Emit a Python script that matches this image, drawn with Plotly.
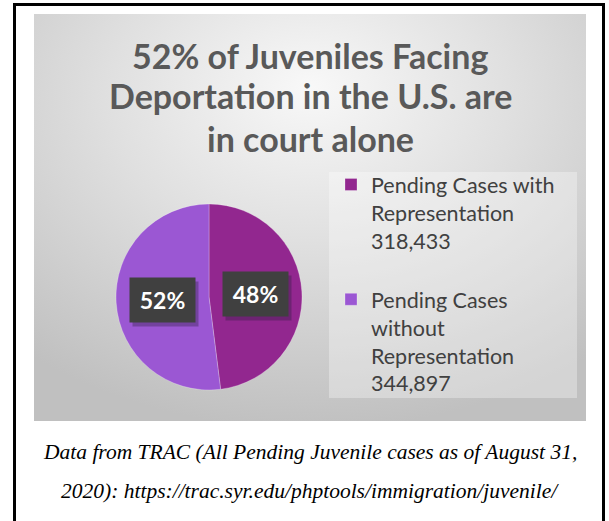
import base64
import math
import plotly.graph_objects as go

# ---------------- data ----------------
categories = ["Pending Cases with Representation", "Pending Cases without Representation"]
legend_lines = [["Pending Cases with", "Representation"], ["Pending Cases", "without", "Representation"]]
case_counts = [318433, 344897]
slice_colors = ["#92278F", "#9B57D3"]

title_lines = ["52% of Juveniles Facing", "Deportation in the U.S. are", "in court alone"]
caption_lines = [
    "Data from TRAC (All Pending Juvenile cases as of August 31,",
    "2020): https://trac.syr.edu/phptools/immigration/juvenile/",
]

# ---------------- layout constants ----------------
W, H = 609, 521
CX, CY, R = 209, 297, 93          # pie centre / radius in px


def px(x):
    return x / W


def py(y):
    return 1 - y / H


legend_text = []
for i, (lines, v) in enumerate(zip(legend_lines, case_counts)):
    t = "<br>".join(lines + [f"{v:,}"])
    if i < len(case_counts) - 1:
        t += "<br> "
    legend_text.append(t)

fig = go.Figure()
fig.add_trace(go.Pie(
    labels=legend_text,
    values=case_counts,
    sort=False,
    direction="clockwise",
    rotation=0,
    marker=dict(colors=slice_colors, line=dict(color="rgba(255,255,255,0.25)", width=1)),
    textinfo="none",
    hoverinfo="label+value+percent",
    domain=dict(x=[px(CX - R), px(CX + R)], y=[py(CY + R), py(CY - R)]),
))

# gradient background panel
svg = (
    '<svg xmlns="http://www.w3.org/2000/svg" width="552" height="407" viewBox="0 0 552 407" '
    'preserveAspectRatio="none">'
    '<defs><radialGradient id="g" cx="50%" cy="22%" r="80%" fx="50%" fy="18%">'
    '<stop offset="0%" stop-color="#f8f8f8"/>'
    '<stop offset="45%" stop-color="#e0e0e0"/>'
    '<stop offset="100%" stop-color="#c0c0c0"/>'
    '</radialGradient></defs>'
    '<rect width="552" height="407" fill="url(#g)"/></svg>'
)
src = "data:image/svg+xml;base64," + base64.b64encode(svg.encode()).decode()
PX0, PY0, PX1, PY1 = 34, 14, 586, 421
fig.add_layout_image(dict(
    source=src, xref="paper", yref="paper",
    x=px(PX0), y=py(PY0), sizex=(PX1 - PX0) / W, sizey=(PY1 - PY0) / H,
    xanchor="left", yanchor="top", sizing="stretch", layer="below",
))

shapes = [
    # legend area
    dict(type="rect", xref="paper", yref="paper", x0=px(329), x1=px(577), y0=py(398), y1=py(172),
         fillcolor="rgba(255,255,255,0.32)", line=dict(width=0), layer="below"),
    # frame
    dict(type="line", xref="paper", yref="paper", x0=px(14.5), x1=px(14.5), y0=py(3), y1=py(530),
         line=dict(color="black", width=3)),
    dict(type="line", xref="paper", yref="paper", x0=px(13), x1=px(605), y0=py(4.5), y1=py(4.5),
         line=dict(color="black", width=3)),
    dict(type="line", xref="paper", yref="paper", x0=px(603.5), x1=px(603.5), y0=py(3), y1=py(530),
         line=dict(color="black", width=3)),
]

annotations = []
# title (one annotation per line)
for line, yc in zip(title_lines, [55.5, 95.5, 138]):
    annotations.append(dict(
        text="<b>" + line + "</b>", xref="paper", yref="paper",
        x=px(310), y=py(yc), xanchor="center", yanchor="middle", showarrow=False,
        font=dict(family="Lato", size=34, color="#595959"), align="center",
    ))
# caption
for line, yc in zip(caption_lines, [452, 491]):
    annotations.append(dict(
        text="<i>" + line + "</i>", xref="paper", yref="paper",
        x=px(310), y=py(yc), xanchor="center", yanchor="middle", showarrow=False,
        font=dict(family="Liberation Serif", size=21.5, color="black"),
    ))

# data labels, placed at slice mid-angles
total = sum(case_counts)
cum = 0
for v in case_counts:
    mid = (cum + v / 2) / total * 2 * math.pi
    cum += v
    lx = CX + 0.5 * R * math.sin(mid)
    ly = CY - 0.5 * R * math.cos(mid)
    pct = f"{round(v / total * 100)}%"
    annotations.append(dict(
        text="", xref="paper", yref="paper", x=px(lx + 3), y=py(ly + 4),
        xanchor="center", yanchor="middle", showarrow=False,
        width=63, height=42, bgcolor="rgba(40,30,60,0.35)",
    ))
    annotations.append(dict(
        text=f"<b>{pct}</b>", xref="paper", yref="paper", x=px(lx), y=py(ly),
        xanchor="center", yanchor="middle", showarrow=False,
        width=63, height=42, bgcolor="#404040",
        font=dict(family="Lato", size=23, color="white"),
    ))

fig.update_layout(
    width=W, height=H,
    margin=dict(l=0, r=0, t=0, b=0),
    paper_bgcolor="white",
    shapes=shapes,
    annotations=annotations,
    showlegend=True,
    legend=dict(
        x=px(331), y=py(164), xanchor="left", yanchor="top",
        bgcolor="rgba(0,0,0,0)", valign="top",
        font=dict(family="Lato", size=21.5, color="#404040"),
    ),
)

fig.write_html(
    "out.html",
    config={"displayModeBar": False},
    post_script="document.body.style.margin='0';document.body.style.overflow='hidden';",
)
